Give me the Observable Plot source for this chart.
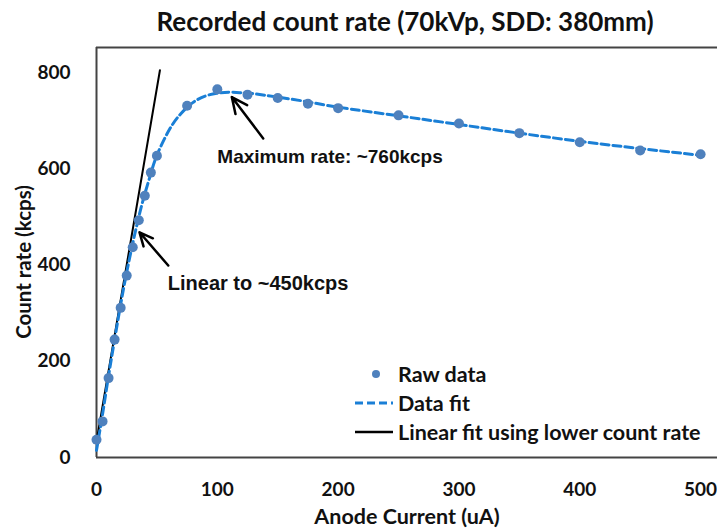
<!DOCTYPE html>
<html>
<head>
<meta charset="utf-8">
<script src="https://cdn.jsdelivr.net/npm/d3@7"></script>
<script src="https://cdn.jsdelivr.net/npm/@observablehq/plot@0.6"></script>
<style>
  body { margin: 0; background: #fff; width: 717px; height: 529px; overflow: hidden; position: relative; }
  #title { height: 40px; line-height: 42px; text-align: center; font-family: Lato, sans-serif; font-weight: bold; font-size: 26px; color: #111; padding-left: 93px; box-sizing: border-box; white-space: nowrap; }
  #chart { position: relative; }
  #legend { position: absolute; left: 352px; top: 359px; font-family: Lato, sans-serif; font-weight: bold; font-size: 21.5px; color: #111; }
  #legend .row { display: flex; align-items: center; height: 29px; }
  #legend svg { width: 44px; height: 20px; margin-right: 2px; }
  #ytitle { position: absolute; left: 23px; top: 262px; transform: translate(-50%, -50%) rotate(-90deg); font-family: Lato, sans-serif; font-weight: bold; font-size: 20.5px; color: #111; white-space: nowrap; }
</style>
</head>
<body>
<div id="title">Recorded count rate (70kVp, SDD: 380mm)</div>
<div id="chart"></div>
<div id="legend"></div>
<div id="ytitle">Count rate (kcps)</div>
<script>
// Raw data: anode current (uA) and count rate (kcps)
const current = [0, 5, 10, 15, 20, 25, 30, 35, 40, 45, 50, 75, 100, 125, 150, 175, 200, 250, 300, 350, 400, 450, 500];
const countRate = [37, 75, 165, 245, 311, 378, 437, 493, 544, 592, 627, 731, 765, 754, 747, 735, 726, 711, 694, 674, 655, 638, 630];

// Data fit curve
const fitCurrent = [0, 5, 10, 15, 20, 25, 30, 35, 40, 45, 50, 60, 70, 80, 90, 100, 110, 120, 130, 150, 175, 200, 250, 300, 350, 400, 450, 500];
const fitRate = [15, 90, 170, 245, 318, 385, 445, 500, 548, 590, 628, 680, 715, 738, 751, 757, 759, 758, 756, 749, 739, 728, 710, 692, 674, 657, 642, 628];

// Linear fit using lower count rate
const linearSlope = 14.7;
const linearIntercept = 33;
const linearRange = [0, 52.5];

// Tick labels
const xTicks = [0, 100, 200, 300, 400, 500];
const yTicks = [0, 200, 400, 600, 800];

// Annotations
const annotations = [
  {text: "Maximum rate: ~760kcps", x: 100, y: 624, ax1: 138, ay1: 663, ax2: 112, ay2: 749, size: 19},
  {text: "Linear to ~450kcps", x: 59, y: 362, ax1: 59.4, ay1: 399, ax2: 35.6, ay2: 468, size: 20}
];

const legendItems = ["Raw data", "Data fit", "Linear fit using lower count rate"];

const raw = current.map((c, i) => ({x: c, y: countRate[i]}));
const fit = fitCurrent.map((c, i) => ({x: c, y: fitRate[i]}));
const lin = linearRange.map(x => ({x, y: linearSlope * x + linearIntercept}));

const ptColor = "#4f81bd";
const fitColor = "#1a7fd6";

const chart = Plot.plot({
  width: 717,
  height: 489,
  marginLeft: 96,
  marginRight: 0,
  marginTop: 7,
  marginBottom: 72,
  style: {fontFamily: "Lato, sans-serif", fontWeight: "bold", fontSize: "19px", color: "#111", background: "transparent"},
  x: {domain: [0, 514], ticks: xTicks, tickSize: 0, tickPadding: 25, label: null},
  y: {domain: [0, 852], ticks: yTicks, tickSize: 0, tickPadding: 26, label: null},
  marks: [
    Plot.ruleY([852], {stroke: "#444", strokeWidth: 2}),
    Plot.ruleX([0], {stroke: "#444", strokeWidth: 2}),
    Plot.ruleY([0], {stroke: "#444", strokeWidth: 2}),
    Plot.line(lin, {x: "x", y: "y", stroke: "#000", strokeWidth: 2}),
    Plot.line(fit, {x: "x", y: "y", stroke: fitColor, strokeWidth: 3, strokeDasharray: "8,4", curve: "natural"}),
    Plot.dot(raw, {x: "x", y: "y", r: 5, fill: ptColor, stroke: "none"}),
    Plot.arrow(annotations, {x1: "ax1", y1: "ay1", x2: "ax2", y2: "ay2", stroke: "#000", strokeWidth: 2.5, headLength: 12, headAngle: 50}),
    Plot.text(annotations, {x: "x", y: "y", text: "text", textAnchor: "start", fontFamily: "Liberation Sans, Arial, sans-serif", fontWeight: "bold", fontSize: d => d.size, fill: "#111"}),
    Plot.axisX({ticks: xTicks, tickSize: 0, tickPadding: 25, label: null, fontSize: 19}),
    Plot.axisY({ticks: yTicks, tickSize: 0, tickPadding: 26, label: null, fontSize: 19}),
    Plot.text(["Anode Current (uA)"], {frameAnchor: "bottom", dy: 66, fontSize: 21.5, fontWeight: "bold", fill: "#111"})
  ]
});
document.getElementById("chart").appendChild(chart);

// Legend
const legend = document.getElementById("legend");
const symbols = [
  `<svg viewBox="0 0 44 20"><circle cx="24" cy="10" r="4" fill="${ptColor}"/></svg>`,
  `<svg viewBox="0 0 44 20"><line x1="3" y1="10" x2="41" y2="10" stroke="${fitColor}" stroke-width="3" stroke-dasharray="8,4"/></svg>`,
  `<svg viewBox="0 0 44 20"><line x1="3" y1="10" x2="41" y2="10" stroke="#000" stroke-width="2.5"/></svg>`
];
legendItems.forEach((t, i) => {
  const row = document.createElement("div");
  row.className = "row";
  row.innerHTML = symbols[i] + `<span>${t}</span>`;
  legend.appendChild(row);
});
</script>
</body>
</html>
